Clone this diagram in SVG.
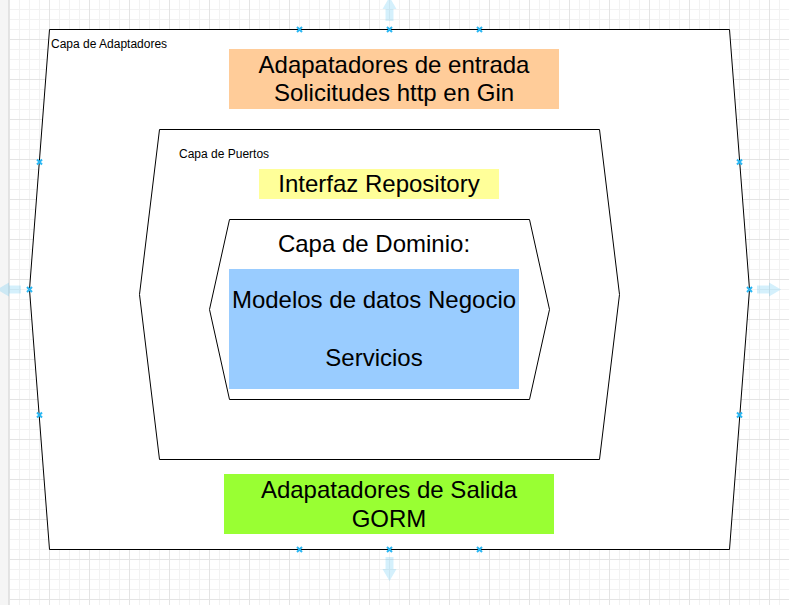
<svg xmlns="http://www.w3.org/2000/svg" width="789" height="605" viewBox="0 0 789 605">
  <style>
    .hex { fill: #ffffff; stroke: #000000; stroke-width: 1; }
    .big { font-family: "Liberation Sans", Arial, sans-serif; font-size: 24px; fill: #000000; text-anchor: middle; }
    .small { font-family: "Liberation Sans", Arial, sans-serif; font-size: 12px; fill: #000000; }
    .handle { stroke: #29b6f2; stroke-width: 2; fill: none; }
    .hover { fill: #29b6f2; fill-opacity: 0.2; }
  </style>
  <defs>
    <pattern id="minor" width="10" height="10" patternUnits="userSpaceOnUse" x="9" y="-1">
      <path d="M0 0.5H10M0.5 0V10" stroke="#f2f2f2" stroke-width="1" fill="none"/>
    </pattern>
    <pattern id="major" width="40" height="40" patternUnits="userSpaceOnUse" x="9" y="-1">
      <path d="M0 0.5H40M0.5 0V40" stroke="#e4e4e4" stroke-width="1" fill="none"/>
    </pattern>
    <path id="hx" d="M-2.5 -2.5L2.5 2.5M-2.5 2.5L2.5 -2.5"/>
  </defs>

  <!-- canvas -->
  <rect x="0" y="0" width="789" height="605" fill="#ffffff"/>
  <rect x="0" y="0" width="789" height="605" fill="url(#minor)"/>
  <rect x="0" y="0" width="789" height="605" fill="url(#major)"/>
  <rect x="0" y="0" width="8" height="605" fill="#f5f5f5"/>
  <line x1="8.5" y1="0" x2="8.5" y2="605" stroke="#e2e2e2"/>

  <!-- Capa de Adaptadores -->
  <g id="capa-adaptadores">
    <polygon class="hex" points="49.5,29.5 729.5,29.5 749.5,289.5 729.5,549.5 49.5,549.5 29.5,289.5"/>
    <text class="small" x="51" y="48">Capa de Adaptadores</text>
  </g>

  <!-- Capa de Puertos -->
  <g id="capa-puertos">
    <polygon class="hex" points="159.5,129.5 599.5,129.5 619.5,294.5 599.5,459.5 159.5,459.5 139.5,294.5"/>
    <text class="small" x="179" y="158">Capa de Puertos</text>
  </g>

  <!-- Capa de Dominio -->
  <g id="capa-dominio">
    <polygon class="hex" points="229.5,219.5 529.5,219.5 549.5,309.5 529.5,399.5 229.5,399.5 209.5,309.5"/>
    <text class="big" x="374" y="252">Capa de Dominio:</text>
  </g>

  <!-- Adaptadores de entrada -->
  <g id="adaptadores-entrada">
    <rect x="229" y="49" width="330" height="60" fill="#ffcc99"/>
    <text class="big" x="394" y="72.5">Adapatadores de entrada</text>
    <text class="big" x="394" y="101.3">Solicitudes http en Gin</text>
  </g>

  <!-- Interfaz Repository -->
  <g id="interfaz-repository">
    <rect x="259" y="169" width="240" height="30" fill="#ffff99"/>
    <text class="big" x="379" y="192">Interfaz Repository</text>
  </g>

  <!-- Modelos / Servicios -->
  <g id="modelos-servicios">
    <rect x="229" y="269" width="290" height="120" fill="#99ccff"/>
    <text class="big" x="374" y="308">Modelos de datos Negocio</text>
    <text class="big" x="374" y="365.6">Servicios</text>
  </g>

  <!-- Adaptadores de salida -->
  <g id="adaptadores-salida">
    <rect x="224" y="474" width="330" height="60" fill="#99ff33"/>
    <text class="big" x="389" y="497.8">Adapatadores de Salida</text>
    <text class="big" x="389" y="526.6">GORM</text>
  </g>

  <!-- connectors: none in the picture -->
  <g id="connectors"/>

  <!-- selection handles -->
  <g id="selection-handles" class="handle">
    <use href="#hx" x="299.5" y="29.5"/>
    <use href="#hx" x="389.5" y="29.5"/>
    <use href="#hx" x="479.5" y="29.5"/>
    <use href="#hx" x="299.5" y="549.5"/>
    <use href="#hx" x="389.5" y="549.5"/>
    <use href="#hx" x="479.5" y="549.5"/>
    <use href="#hx" x="29.5" y="289.5"/>
    <use href="#hx" x="749.5" y="289.5"/>
    <use href="#hx" x="39.5" y="162"/>
    <use href="#hx" x="39.5" y="415"/>
    <use href="#hx" x="739.5" y="162"/>
    <use href="#hx" x="739.5" y="415"/>
  </g>

  <!-- hover arrows -->
  <g id="hover-arrows" class="hover">
    <path d="M385.5 21V9H382.5L389.5 -3L396.5 9H393.5V21Z"/>
    <path d="M385.5 557V569H382.5L389.5 581L396.5 569H393.5V557Z"/>
    <path d="M21 285.5H9V282.5L-3 289.5L9 296.5V293.5H21Z"/>
    <path d="M757 285.5H769V282.5L781 289.5L769 296.5V293.5H757Z"/>
  </g>
</svg>
